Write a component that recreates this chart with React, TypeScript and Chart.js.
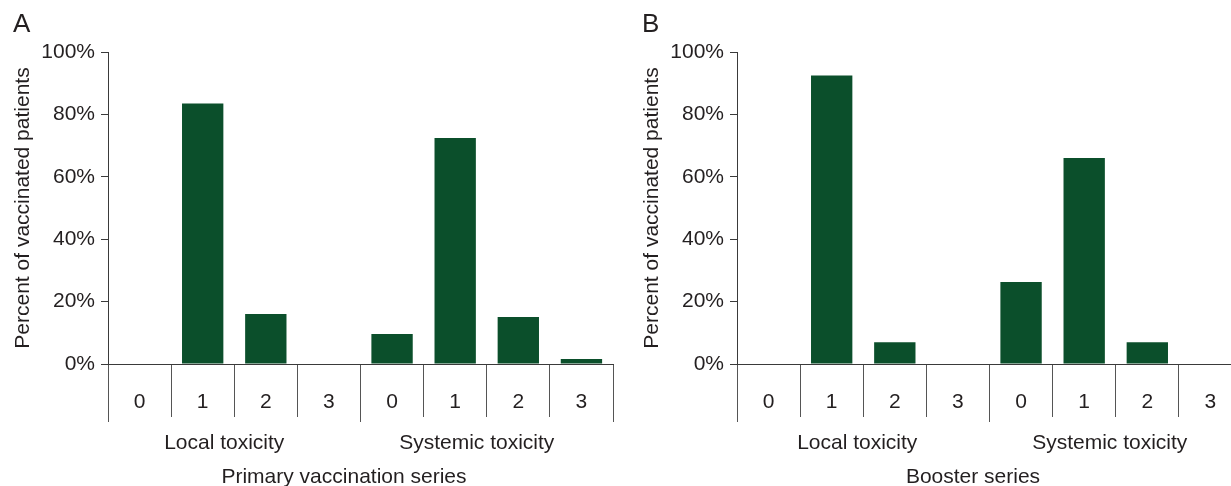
import React, { useEffect, useRef } from 'react';
import { Chart, registerables } from 'chart.js';

Chart.register(...registerables);

// ---- data ----
const gradeLabels = ['0', '1', '2', '3', '0', '1', '2', '3'];
const toxicityGroups = ['Local toxicity', 'Systemic toxicity'];
const primarySeries = [0, 83.5, 16.0, 0, 9.6, 72.4, 15.1, 1.6];
const boosterSeries = [0, 92.5, 7.0, 0, 26.3, 66.0, 7.0, 0];
const yTickValues = [0, 20, 40, 60, 80, 100];
const yAxisTitle = 'Percent of vaccinated patients';
const panelLetters = ['A', 'B'];
const panelTitles = ['Primary vaccination series', 'Booster series'];

// ---- style ----
const FONT = '"Liberation Sans", Arial, Helvetica, sans-serif';
const TEXT = '#231f20';
const BAR = '#0b4f2b';
const LINE = '#3a3a3a';
const GRID = '#555555';
const FONT_SIZE = 21;

function makeConfig(values: number[], groupLabelOffset: number): any {
  const font = { family: FONT, size: FONT_SIZE };
  return {
    type: 'bar',
    data: {
      labels: gradeLabels,
      datasets: [
        {
          data: values,
          backgroundColor: BAR,
          borderWidth: 0,
          barPercentage: 0.655,
          categoryPercentage: 1,
        },
      ],
    },
    options: {
      responsive: false,
      animation: false,
      layout: { padding: { top: 52, right: 7, bottom: 0, left: 0 } },
      plugins: { legend: { display: false }, tooltip: { enabled: false } },
      scales: {
        x: {
          type: 'category',
          position: 'bottom',
          weight: 0,
          offset: true,
          grid: { offset: true, drawOnChartArea: false, drawTicks: true, tickLength: 53, color: GRID, lineWidth: 1 },
          border: { display: true, color: LINE, width: 1 },
          ticks: { padding: -27, color: TEXT, font, maxRotation: 0, autoSkip: false },
          afterFit: (s: any) => { s.height = 53; },
        },
        x2: {
          type: 'category',
          labels: toxicityGroups,
          position: 'bottom',
          weight: 1,
          offset: true,
          grid: { offset: true, drawOnChartArea: false, drawTicks: true, tickLength: 5, color: GRID, lineWidth: 1 },
          border: { display: false },
          ticks: { padding: 9, labelOffset: groupLabelOffset, color: TEXT, font, maxRotation: 0, autoSkip: false },
          afterFit: (s: any) => { s.height = 69; },
        },
        y: {
          type: 'linear',
          position: 'left',
          min: 0,
          max: 100,
          afterBuildTicks: (s: any) => { s.ticks = yTickValues.map((v) => ({ value: v })); },
          grid: { drawOnChartArea: false, drawTicks: true, tickLength: 7, color: LINE, lineWidth: 1 },
          border: { display: true, color: LINE, width: 1 },
          ticks: { padding: 6, color: TEXT, font, callback: (v: any) => v + '%' },
          title: { display: true, text: yAxisTitle, color: TEXT, font, padding: { top: 11, bottom: 0 } },
          afterFit: (s: any) => { s.width = 108; },
        },
      },
    },
  };
}

function Panel({
  values,
  letter,
  xTitle,
  left,
  groupLabelOffset,
}: {
  values: number[];
  letter: string;
  xTitle: string;
  left: number;
  groupLabelOffset: number;
}) {
  const ref = useRef<HTMLCanvasElement | null>(null);
  useEffect(() => {
    if (!ref.current) return;
    const chart = new Chart(ref.current, makeConfig(values, groupLabelOffset));
    return () => chart.destroy();
  }, [values, groupLabelOffset]);
  return (
    <div style={{ position: 'absolute', left, top: 0, width: 620, height: 486 }}>
      <canvas ref={ref} width={620} height={486} style={{ display: 'block', width: 620, height: 486 }} />
      <div
        style={{
          position: 'absolute',
          left: 13,
          top: 8,
          fontFamily: FONT,
          fontSize: 26,
          lineHeight: '30px',
          color: TEXT,
        }}
      >
        {letter}
      </div>
      <div
        style={{
          position: 'absolute',
          left: 0,
          width: 688,
          top: 463,
          textAlign: 'center',
          fontFamily: FONT,
          fontSize: FONT_SIZE,
          lineHeight: '25px',
          color: TEXT,
          whiteSpace: 'nowrap',
        }}
      >
        {xTitle}
      </div>
    </div>
  );
}

export default function App() {
  return (
    <div
      style={{
        position: 'fixed',
        left: 0,
        top: 0,
        width: 1231,
        height: 486,
        overflow: 'hidden',
        background: '#ffffff',
      }}
    >
      <Panel values={primarySeries} letter={panelLetters[0]} xTitle={panelTitles[0]} left={0} groupLabelOffset={-10} />
      <Panel values={boosterSeries} letter={panelLetters[1]} xTitle={panelTitles[1]} left={629} groupLabelOffset={-6} />
    </div>
  );
}
